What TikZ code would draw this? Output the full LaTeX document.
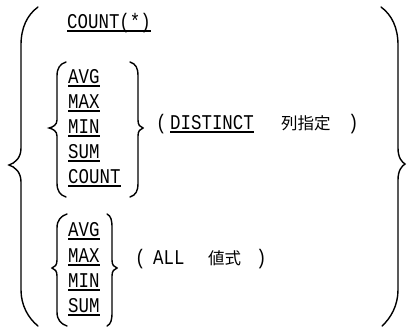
\documentclass[tikz,border=0pt]{standalone}
\usepackage{fontspec}
\newfontfamily\latf[FakeStretch=0.83]{Liberation Mono}
\newfontfamily\jpf{Noto Sans CJK JP}
\begin{document}
\begin{tikzpicture}[x=1pt,y=-1pt,
  brc/.style={line width=1.4pt,line cap=round},
  kw/.style={font=\latf\fontsize{21}{21}\selectfont,inner sep=0pt,anchor=base west,
    append after command={\pgfextra{\draw[line width=1.2pt] ([yshift=-3pt]\tikzlastnode.base west) -- ([yshift=-3pt]\tikzlastnode.base east);}}},
  pl/.style={font=\latf\fontsize{21}{21}\selectfont,inner sep=0pt,anchor=base west},
  jp/.style={font=\jpf\fontsize{16.5}{16.5}\selectfont,inner sep=0pt,anchor=base west}]
\useasboundingbox (0,0) rectangle (407,327);
% big braces
\draw[brc] (38,7) .. controls (27,15) and (21,28) .. (21,45) -- (21,148) .. controls (21,158) and (15,163) .. (9,165) .. controls (15,167) and (21,172) .. (21,182) -- (21,290) .. controls (21,305) and (28,318) .. (38,326);
\draw[brc] (381,7) .. controls (392,15) and (398,28) .. (398,45) -- (398,148) .. controls (398,158) and (402,162) .. (405,164) .. controls (402,166) and (398,170) .. (398,180) -- (398,290) .. controls (398,305) and (391,318) .. (382,326);
% COUNT(*)
\node[kw] (cstar) at (67,28) {COUNT(*)};
% group 1
\node[kw] (a1) at (68,83) {AVG};
\node[kw] (m1) at (68,108) {MAX};
\node[kw] (n1) at (68,133) {MIN};
\node[kw] (s1) at (68,158) {SUM};
\node[kw] (c1) at (68,183) {COUNT};
\draw[brc] (66,62) .. controls (60,64) and (57,68) .. (57,76) -- (57,120) .. controls (57,125) and (53,127) .. (49,128) .. controls (53,129) and (57,131) .. (57,136) -- (57,183) .. controls (57,191) and (60,195) .. (66,197);
\draw[brc] (130,62) .. controls (136,64) and (138,68) .. (138,76) -- (138,120) .. controls (138,125) and (140,127) .. (143,128) .. controls (140,129) and (138,131) .. (138,136) -- (138,183) .. controls (138,191) and (136,195) .. (130,197);
\node[pl] (lp1) at (156,129) {(};
\node[kw] (dist) at (170,129) {DISTINCT};
\node[jp] (col) at (281,129) {列指定};
\node[pl] (rp1) at (348,129) {)};
% group 2
\node[kw] (a2) at (68,236) {AVG};
\node[kw] (m2) at (68,262) {MAX};
\node[kw] (n2) at (68,287) {MIN};
\node[kw] (s2) at (68,312) {SUM};
\draw[brc] (67,214) .. controls (61,216) and (57,220) .. (57,228) -- (57,260) .. controls (57,265) and (55,267) .. (52,268) .. controls (55,269) and (57,271) .. (57,276) -- (57,312) .. controls (57,320) and (61,324) .. (67,326);
\draw[brc] (107,214) .. controls (111,216) and (112,220) .. (112,228) -- (112,260) .. controls (112,265) and (114,267) .. (117,268) .. controls (114,269) and (112,271) .. (112,276) -- (112,312) .. controls (112,320) and (111,324) .. (107,326);
\node[pl] (lp2) at (135,264) {(};
\node[pl] (all) at (153,264) {ALL};
\node[jp] (expr) at (208,264) {値式};
\node[pl] (rp2) at (256,264) {)};
\end{tikzpicture}
\end{document}
